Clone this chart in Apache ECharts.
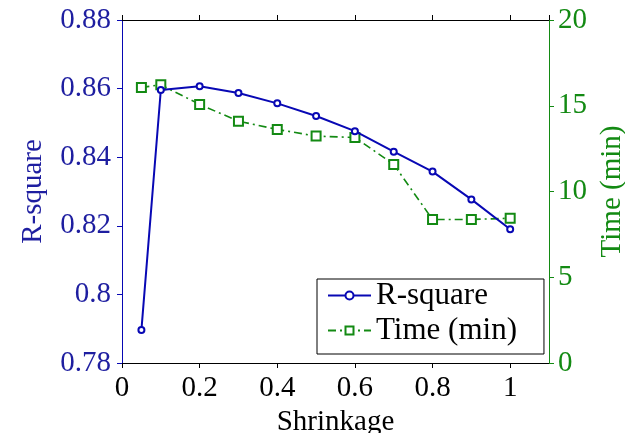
<!DOCTYPE html>
<html lang="en">
<head>
    <meta charset="UTF-8">
    <title>Shrinkage</title>
    <script src="https://cdn.jsdelivr.net/npm/echarts@6/dist/echarts.min.js"></script>
    <style>
        html, body { margin: 0; padding: 0; background: #fff; }
        #chart { width: 625px; height: 433px; }
    </style>
</head>
<body>
<div id="chart"></div>
<script>
    // values
    var shrinkage = [0.05, 0.1, 0.2, 0.3, 0.4, 0.5, 0.6, 0.7, 0.8, 0.9, 1.0]
    var rSquare = [0.7896, 0.8596, 0.8607, 0.8587, 0.8557, 0.8520, 0.8476, 0.8416, 0.8358, 0.8277, 0.8190]
    var timeMin = [16.07, 16.22, 15.08, 14.1, 13.62, 13.23, 13.15, 11.58, 8.37, 8.37, 8.44]

    var blue = '#0808b4'
    var blueText = '#1e1ea0'
    var green = '#138a13'
    var serif = '"Liberation Serif", "DejaVu Serif", serif'
    var fs = 29

    function pairs(xs, ys) {
        return xs.map(function (x, i) { return [x, ys[i]] })
    }

    var chart = echarts.init(document.getElementById('chart'))
    chart.setOption({
        animation: false,
        textStyle: { fontFamily: serif },
        grid: { left: 122, right: 76, top: 20, bottom: 70, containLabel: false, outerBoundsMode: 'none' },
        legend: {
            orient: 'vertical',
            left: 317,
            top: 279,
            backgroundColor: '#fff',
            borderColor: '#000',
            borderWidth: 1,
            borderRadius: 0,
            padding: [1, 27, 8, 10],
            itemGap: 4,
            itemWidth: 43,
            itemHeight: 10,
            textStyle: { fontFamily: serif, fontSize: 31, color: '#000' },
            data: ['R-square', 'Time (min)']
        },
        xAxis: [{
            type: 'value',
            min: 0, max: 1.1, interval: 0.2,
            name: 'Shrinkage',
            nameLocation: 'middle',
            nameGap: 38,
            nameTextStyle: { fontFamily: serif, fontSize: fs, color: '#000' },
            axisLine: { onZero: false, lineStyle: { color: '#000' } },
            axisTick: { length: 5, lineStyle: { color: '#000' } },
            axisLabel: { showMaxLabel: false, fontFamily: serif, fontSize: fs, color: '#000', margin: 11 },
            splitLine: { show: false }
        }, {
            type: 'value',
            position: 'top',
            min: 0, max: 1.1, interval: 0.2,
            axisLine: { onZero: false, lineStyle: { color: '#000' } },
            axisTick: { length: 5, lineStyle: { color: '#000' } },
            axisLabel: { show: false },
            splitLine: { show: false }
        }],
        yAxis: [{
            type: 'value',
            min: 0.78, max: 0.88, interval: 0.02,
            name: 'R-square',
            nameLocation: 'middle',
            nameGap: 74,
            nameTextStyle: { fontFamily: serif, fontSize: fs, color: blueText },
            axisLine: { show: true, onZero: false, lineStyle: { color: blue } },
            axisTick: { show: true, length: 5, lineStyle: { color: blue } },
            axisLabel: { fontFamily: serif, fontSize: fs, color: blueText, margin: 11 },
            splitLine: { show: false }
        }, {
            type: 'value',
            position: 'right',
            min: 0, max: 20, interval: 5,
            name: 'Time (min)',
            nameLocation: 'middle',
            nameRotate: 90,
            nameGap: 42,
            nameTextStyle: { fontFamily: serif, fontSize: fs, color: green },
            axisLine: { show: true, onZero: false, lineStyle: { color: green } },
            axisTick: { show: true, length: 5, lineStyle: { color: green } },
            axisLabel: { fontFamily: serif, fontSize: fs, color: green, margin: 9 },
            splitLine: { show: false }
        }],
        series: [{
            name: 'R-square',
            type: 'line',
            yAxisIndex: 0,
            data: pairs(shrinkage, rSquare),
            symbol: 'emptyCircle',
            symbolSize: 6,
            color: blue,
            lineStyle: { color: blue, width: 2 },
            itemStyle: { color: blue, borderWidth: 1.5 },
            z: 3
        }, {
            name: 'Time (min)',
            type: 'line',
            yAxisIndex: 1,
            data: pairs(shrinkage, timeMin),
            symbol: 'emptyRect',
            symbolSize: 9,
            color: green,
            lineStyle: { color: green, width: 1.6, type: [8, 4, 2, 4] },
            itemStyle: { color: green, borderWidth: 2 },
            z: 2
        }]
    })
</script>
</body>
</html>
